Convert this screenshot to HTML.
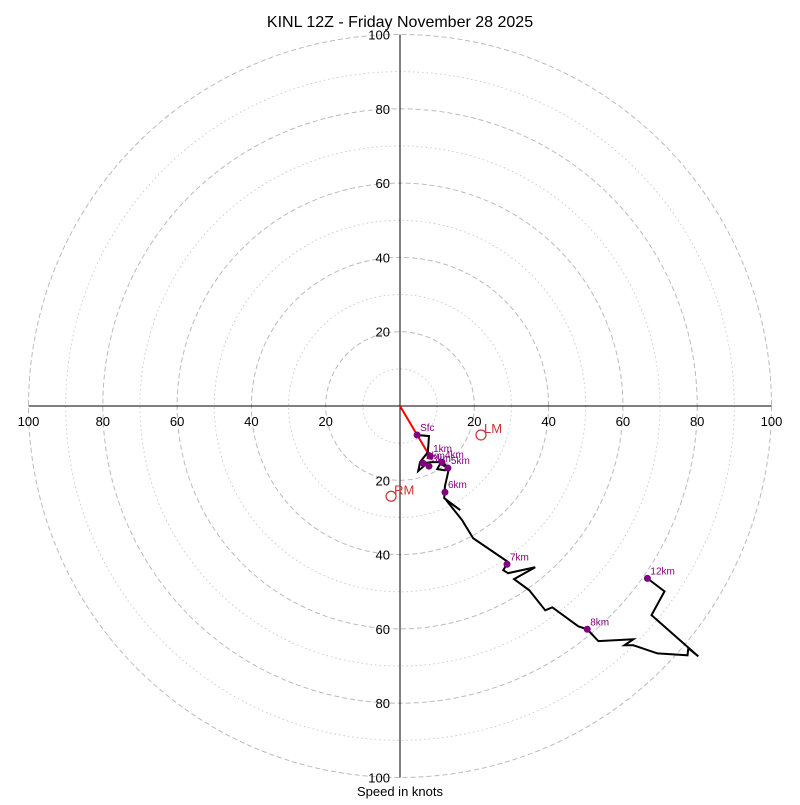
<!DOCTYPE html>
<html><head><meta charset="utf-8"><style>
body{margin:0;background:#fff}
svg text{font-family:"Liberation Sans","DejaVu Sans",sans-serif}
</style></head><body>
<svg id="chart" width="800" height="800">
<rect width="800" height="800" fill="#fff"/>
<text x="400" y="27" text-anchor="middle" font-size="16">KINL 12Z - Friday November 28 2025</text>
<g id="rings"></g>
<g id="axes"></g>
<g id="series"></g>
<text x="400" y="796" text-anchor="middle" font-size="13">Speed in knots</text>
</svg>
<script>
const ringValues=[10,20,30,40,50,60,70,80,90,100];
const tickLabels=[20,40,60,80,100];
const hodoU=[4.6,7.8,7.5,5.4,4.9,6.7,6.2,8.4,11.6,12.9,12.1,10.0,10.8,13.2,12.1,11.9,16.2,12.4,16.7,19.7,29.1,27.8,29.1,36.4,30.7,34.8,39.1,41.0,48.0,50.4,53.4,62.8,60.4,62.8,69.3,77.4,77.6,80.3,67.7,71.2,66.6];
const hodoV=[-7.8,-8.1,-12.4,-15.1,-17.5,-15.9,-15.4,-15.1,-15.1,-16.7,-17.3,-17.0,-15.6,-16.7,-21.6,-24.8,-28.0,-25.3,-30.7,-35.6,-42.0,-44.2,-45.0,-43.4,-46.6,-49.6,-55.0,-54.2,-59.3,-60.1,-63.3,-62.8,-64.4,-64.4,-66.6,-67.1,-65.2,-67.4,-56.3,-49.9,-46.4];
const markerLabels=["Sfc","1km","2km","3km","4km","5km","6km","7km","8km","12km"];
const markerU=[4.6,8.1,6.2,7.8,11.3,12.9,12.1,28.8,50.4,66.6];
const markerV=[-7.8,-13.5,-15.4,-16.2,-15.1,-16.7,-23.2,-42.6,-60.1,-46.4];
const motionLabels=["LM","RM"];
const motionU=[21.8,-2.4];
const motionV=[-7.8,-24.3];
const meanU=[8.6], meanV=[-14.5];

const cx=400,cy=406,k=3.715;
const X=u=>cx+u*k, Y=v=>cy-v*k;
const NS="http://www.w3.org/2000/svg";
function mk(tag,parent,attrs){const e=document.createElementNS(NS,tag);for(const a in attrs)e.setAttribute(a,attrs[a]);parent.appendChild(e);return e;}
const rings=document.getElementById('rings'),axes=document.getElementById('axes'),ser=document.getElementById('series');
ringValues.forEach(r=>{
 const c=mk('circle',rings,{cx:cx,cy:cy,r:r*k,fill:'none',stroke:r%20===0?'#bbb':'#ccc','stroke-width':1,'stroke-dasharray':r%20===0?'5,3':'1.5,3'});
 
 
});
const hl=mk('line',axes,{x1:X(-100),y1:cy,x2:X(100),y2:cy,stroke:'#000','stroke-width':1});


const vl=mk('line',axes,{x1:cx,y1:Y(100),x2:cx,y2:Y(-100),stroke:'#000','stroke-width':1});


tickLabels.forEach(t=>{
 [[X(t),cy+20,'middle'],[X(-t),cy+20,'middle'],[cx-10,Y(t)+5,'end'],[cx-10,Y(-t)+5,'end']].forEach(p=>{
  const tx=mk('text',axes,{x:p[0],y:p[1],'text-anchor':p[2],'font-size':13});
  tx.textContent=t;
  
  
 });
});
const sm=mk('line',ser,{x1:cx,y1:cy,x2:X(meanU[0]),y2:Y(meanV[0]),stroke:'red','stroke-width':2});


const pl=mk('polyline',ser,{points:hodoU.map((u,i)=>X(u)+','+Y(hodoV[i])).join(' '),fill:'none',stroke:'#000','stroke-width':2,'stroke-linejoin':'miter'});


markerLabels.forEach((l,i)=>{
 const c=mk('circle',ser,{cx:X(markerU[i]),cy:Y(markerV[i]),r:3.5,fill:'purple'});
 
 
 const t=mk('text',ser,{x:X(markerU[i])+3,y:Y(markerV[i])-4,'font-size':10,fill:'purple'});
 t.textContent=l;
 
 
});
motionLabels.forEach((l,i)=>{
 const c=mk('circle',ser,{cx:X(motionU[i]),cy:Y(motionV[i]),r:5,fill:'none',stroke:'#c33','stroke-width':1.2});
 
 
 const t=mk('text',ser,{x:X(motionU[i])+3,y:Y(motionV[i])-2,'font-size':13,fill:'#c33'});
 t.textContent=l;
 
 
});
</script>
</body></html>
